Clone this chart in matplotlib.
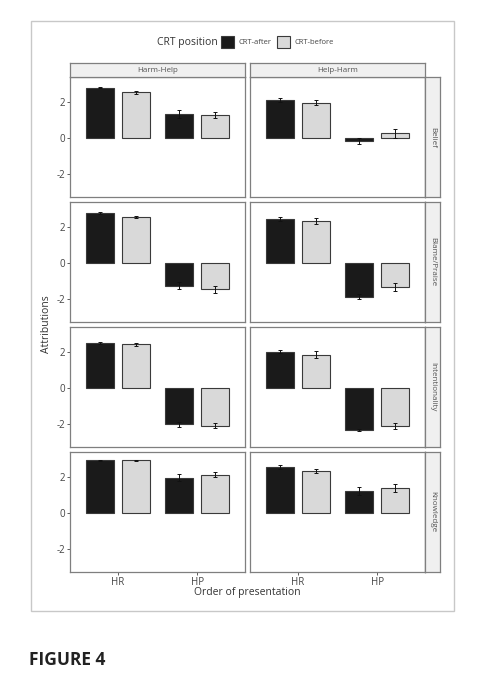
import numpy as np
import matplotlib
matplotlib.use("Agg")
import matplotlib.pyplot as plt
from matplotlib.patches import Rectangle

plt.rcParams['font.family'] = ['Open Sans', 'DejaVu Sans']

# data: [measure][sequence][order]
measures = ["Belief", "Blame/Praise", "Intentionality", "Knowledge"]
sequences = ["Harm-Help", "Help-Harm"]
orders = ["HR", "HP"]

crt_after_mean = np.array([
    [[2.76, 1.30], [2.09, -0.18]],
    [[2.75, -1.26], [2.42, -1.85]],
    [[2.47, -2.01], [2.00, -2.31]],
    [[2.89, 1.94], [2.52, 1.20]],
])
crt_before_mean = np.array([
    [[2.51, 1.26], [1.94, 0.25]],
    [[2.53, -1.45], [2.31, -1.32]],
    [[2.40, -2.07], [1.83, -2.09]],
    [[2.89, 2.11], [2.31, 1.37]],
])
crt_after_se = np.array([
    [[0.04, 0.22], [0.12, 0.17]],
    [[0.06, 0.20], [0.10, 0.12]],
    [[0.08, 0.14], [0.10, 0.07]],
    [[0.03, 0.18], [0.10, 0.20]],
])
crt_before_se = np.array([
    [[0.08, 0.19], [0.15, 0.25]],
    [[0.07, 0.18], [0.16, 0.22]],
    [[0.08, 0.16], [0.18, 0.17]],
    [[0.04, 0.15], [0.13, 0.24]],
])

W, H = 485, 680
fig = plt.figure(figsize=(W / 100, H / 100), dpi=100)


def rect(x0, y0, x1, y1):
    return [x0 / W, 1 - y1 / H, (x1 - x0) / W, (y1 - y0) / H]


# outer frame
fig.patches.append(Rectangle((31 / W, 1 - 611 / H), 423 / W, 590 / H,
                             transform=fig.transFigure, fill=False,
                             edgecolor='#c8c8c8', lw=1.0))

col_x = [(70, 245), (250, 425)]
row_y = [(77, 197), (202, 322), (327, 447), (452, 572)]
black, grey = '#1a1a1a', '#d9d9d9'
edge = '#3a3a3a'
frame = '#7f7f7f'
tick_col = '#444444'
x = np.arange(len(orders))
bw, off = 0.35, 0.225

for i, m in enumerate(measures):
    for j, s in enumerate(sequences):
        ax = fig.add_axes(rect(col_x[j][0], row_y[i][0], col_x[j][1], row_y[i][1]))
        ax.bar(x - off, crt_after_mean[i, j], bw, color=black, edgecolor=edge, lw=0.8, zorder=2)
        ax.bar(x + off, crt_before_mean[i, j], bw, color=grey, edgecolor=edge, lw=0.8, zorder=2)
        ax.errorbar(x - off, crt_after_mean[i, j], yerr=crt_after_se[i, j], fmt='none',
                    ecolor='#111111', elinewidth=0.7, capsize=1.6, capthick=0.7, zorder=3)
        ax.errorbar(x + off, crt_before_mean[i, j], yerr=crt_before_se[i, j], fmt='none',
                    ecolor='#111111', elinewidth=0.7, capsize=1.6, capthick=0.7, zorder=3)
        ax.set_xlim(-0.6, 1.6)
        ax.set_ylim(-3.25, 3.35)
        ax.set_yticks([-2, 0, 2])
        ax.set_xticks(x)
        for sp in ax.spines.values():
            sp.set_color(frame)
            sp.set_linewidth(0.9)
        if j == 1:
            ax.spines['right'].set_color('#222222')
        ax.tick_params(length=2, width=0.6, color=tick_col, labelcolor=tick_col,
                       labelsize=7, pad=1.5)
        if j == 1:
            ax.tick_params(axis='y', left=False, labelleft=False)
        else:
            ax.set_yticklabels(['-2', '0', '2'])
        if i < 3:
            ax.tick_params(axis='x', bottom=False, labelbottom=False)
        else:
            ax.set_xticklabels(orders)

        # strips
        if i == 0:
            sax = fig.add_axes(rect(col_x[j][0], 63, col_x[j][1], 77))
            sax.set_facecolor('#f0f0f0')
            sax.set_xticks([]); sax.set_yticks([])
            for sp in sax.spines.values():
                sp.set_color(frame); sp.set_linewidth(0.9)
            sax.text(0.5, 0.5, s, ha='center', va='center', fontsize=5.8, color='#555555',
                     transform=sax.transAxes)
        if j == 1:
            rax = fig.add_axes(rect(425, row_y[i][0], 440, row_y[i][1]))
            rax.set_facecolor('#f0f0f0')
            rax.set_xticks([]); rax.set_yticks([])
            for sp in rax.spines.values():
                sp.set_color(frame); sp.set_linewidth(0.9)
            rax.text(0.5, 0.5, m, ha='center', va='center', fontsize=5.8, color='#555555',
                     rotation=-90, transform=rax.transAxes)

# axis titles
fig.text(247 / W, 1 - 592 / H, "Order of presentation", ha='center', va='center',
         fontsize=7.5, color='#333333')
fig.text(47 / W, 1 - 324 / H, "Attributions", ha='center', va='center',
         fontsize=7.5, color='#333333', rotation=90)

# legend
fig.text(187 / W, 1 - 42 / H, "CRT position", ha='center', va='center',
         fontsize=7.5, color='#333333')
for (lx, col, lab) in [(221, black, "CRT-after"), (277, grey, "CRT-before")]:
    fig.patches.append(Rectangle((lx / W, 1 - 48 / H), 13 / W, 12 / H,
                                 transform=fig.transFigure, facecolor=col,
                                 edgecolor=edge, lw=0.8))
    fig.text((lx + 18) / W, 1 - 42 / H, lab, ha='left', va='center',
             fontsize=5.5, color='#444444')

fig.text(29 / W, 1 - 660 / H, "FIGURE 4", ha='left', va='center',
         fontsize=12.5, fontweight='bold', color='#222222')

fig.savefig("out.png", dpi=100)
